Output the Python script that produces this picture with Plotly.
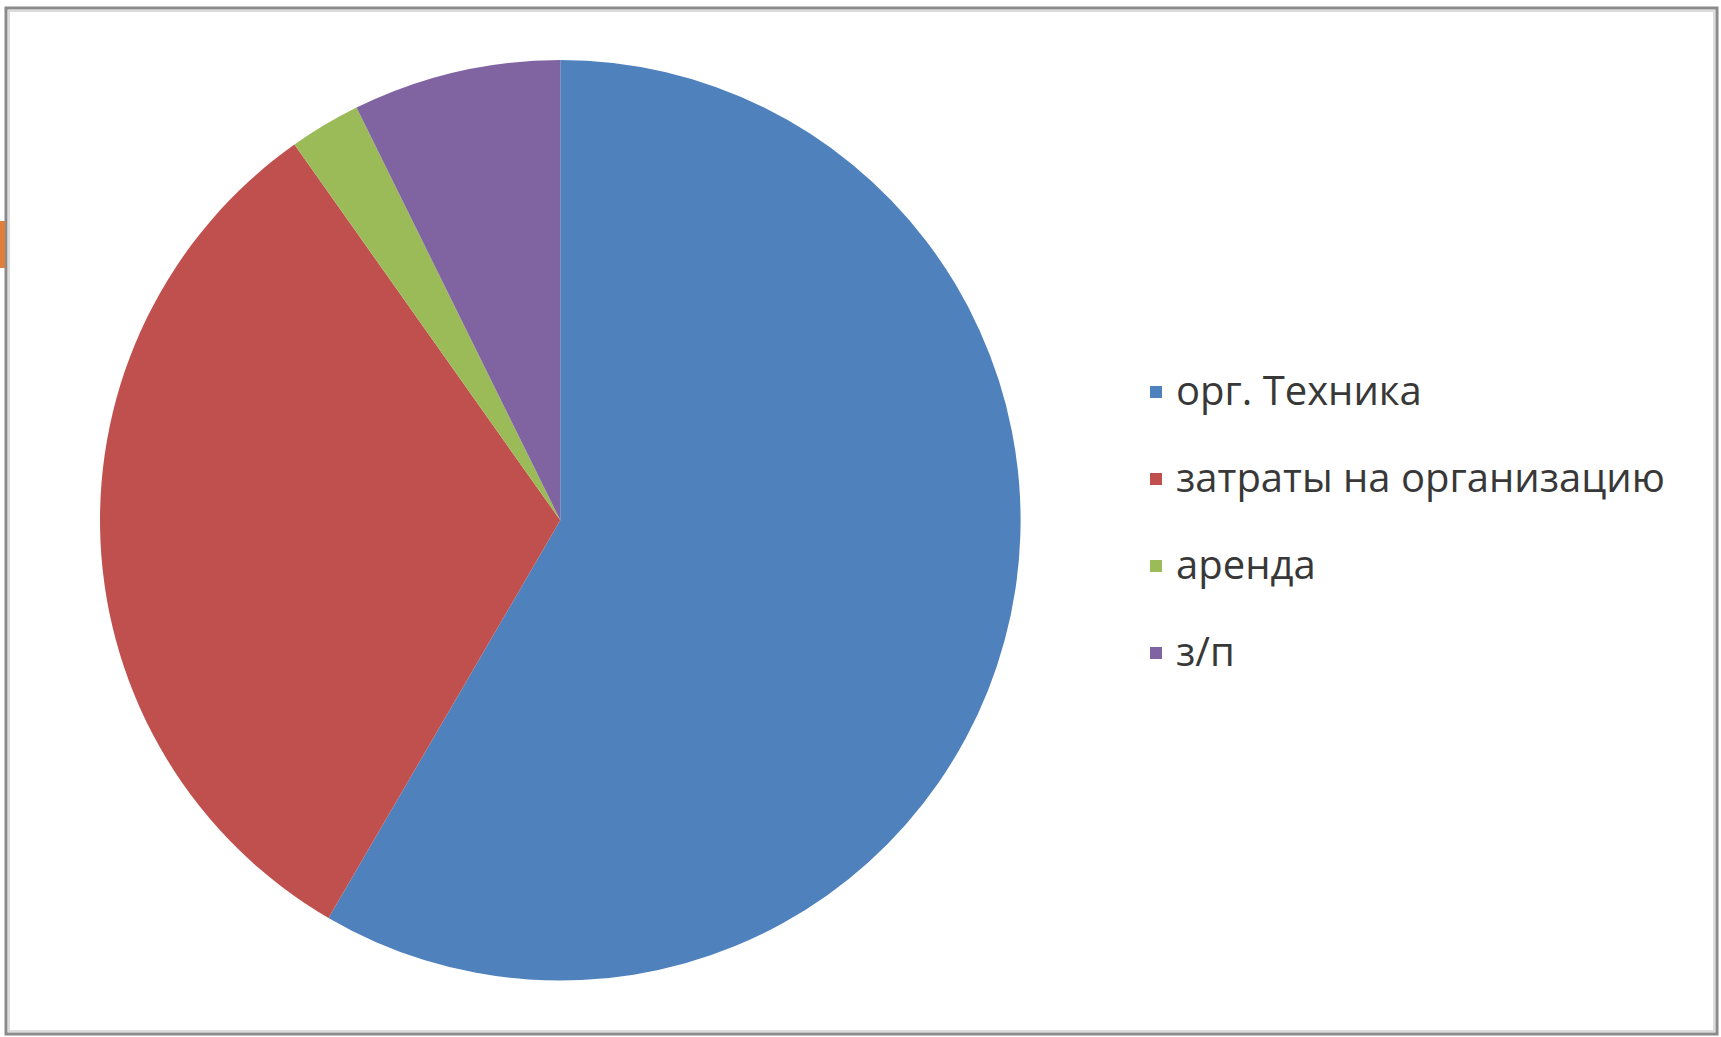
import plotly.graph_objects as go

# ---- data ----
labels = ["орг. Техника", "затраты на организацию", "аренда", "з/п"]
values = [58.4, 31.8, 2.5, 7.3]
colors = ["#4F81BD", "#C0504D", "#9BBB59", "#8064A2"]

W, H = 1721, 1037

# legend text: visible label at 40px, plus an empty second line to space rows like the original
legend_labels = [f"<span style='font-size:40px'>{l}</span><br>&nbsp;" for l in labels]

fig = go.Figure(
    go.Pie(
        labels=legend_labels,
        values=values,
        customdata=labels,
        marker=dict(colors=colors, line=dict(width=0)),
        sort=False,
        direction="clockwise",
        rotation=0,
        textinfo="none",
        hovertemplate="%{customdata}: %{value}<extra></extra>",
        domain=dict(x=[100 / W, 1020.6 / W], y=[(H - 980.6) / H, (H - 60) / H]),
    )
)

fig.update_layout(
    width=W,
    height=H,
    autosize=False,
    margin=dict(l=0, r=0, t=0, b=0),
    paper_bgcolor="white",
    plot_bgcolor="white",
    font=dict(family="Open Sans", color="#383838"),
    showlegend=True,
    legend=dict(
        x=1136 / W,
        xanchor="left",
        y=1 - 364.5 / H,
        yanchor="top",
        valign="top",
        font=dict(size=32.3, family="Open Sans", color="#383838"),
        bgcolor="rgba(0,0,0,0)",
    ),
    shapes=[
        # outer frame
        dict(type="rect", xref="paper", yref="paper",
             x0=6 / W, x1=1717 / W, y0=1 - 1034 / H, y1=1 - 8 / H,
             line=dict(color="#8a8a8a", width=3)),
        # soft inner shadow of frame
        dict(type="rect", xref="paper", yref="paper",
             x0=9 / W, x1=1714 / W, y0=1 - 1031 / H, y1=1 - 11 / H,
             line=dict(color="#dcdcdc", width=2)),
        # orange marker at left edge
        dict(type="rect", xref="paper", yref="paper",
             x0=0, x1=5 / W, y0=1 - 268 / H, y1=1 - 221 / H,
             fillcolor="#E07E3C", line=dict(width=0)),
    ],
)

fig.write_html(
    "out.html",
    config={"displayModeBar": False},
    post_script="document.body.style.margin='0';document.body.style.overflow='hidden';",
)
